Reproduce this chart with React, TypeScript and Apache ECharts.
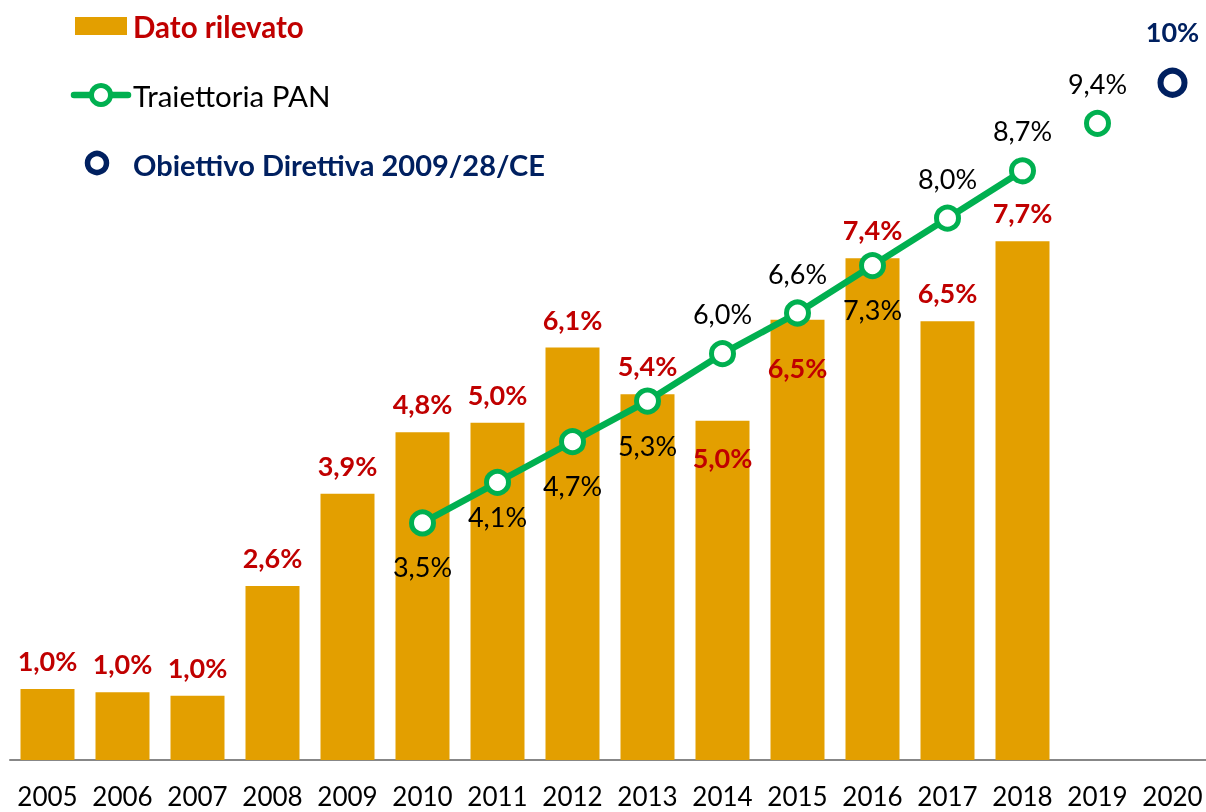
import React, { useEffect, useRef } from "react";
import * as echarts from "echarts";

const years = ["2005","2006","2007","2008","2009","2010","2011","2012","2013","2014","2015","2016","2017","2018","2019","2020"];
const rilevato = [1.05, 1.0, 0.95, 2.57, 3.93, 4.84, 4.98, 6.09, 5.4, 5.01, 6.5, 7.41, 6.48, 7.66, null, null];
const rilevatoLabels = ["1,0%","1,0%","1,0%","2,6%","3,9%","4,8%","5,0%","6,1%","5,4%","5,0%","6,5%","7,4%","6,5%","7,7%","",""];
const traiettoria = [null, null, null, null, null, 3.5, 4.1, 4.7, 5.3, 6.0, 6.6, 7.3, 8.0, 8.7, null, null];
const traiettoriaLabelPos = ["", "", "", "", "", "bottom", "bottom", "bottom", "bottom", "top", "top", "bottom", "top", "top", "", ""];
const traiettoria2019 = [null, null, null, null, null, null, null, null, null, null, null, null, null, null, 9.4, null];
const obiettivo = [null, null, null, null, null, null, null, null, null, null, null, null, null, null, null, 10];
const obiettivoLabel = "10%";

const ORANGE = "#E39F00";
const GREEN = "#00B050";
const RED = "#C00000";
const NAVY = "#002060";
const FONT = "Lato";

const fmt = (v: number) => v.toFixed(1).replace(".", ",") + "%";

export default function App() {
  const ref = useRef<HTMLDivElement>(null);
  useEffect(() => {
    if (!ref.current) return;
    const chart = echarts.init(ref.current, null, { renderer: "svg" });

    const barData = rilevato.map((v, i) => {
      if (v === null) return null;
      const inside = i === 9 || i === 10;
      return {
        value: v,
        label: inside
          ? { position: "insideTop", distance: i === 9 ? 23 : 34 }
          : { position: "top", distance: 15 },
      };
    });

    const lineData = traiettoria.map((v, i) => {
      if (v === null) return null;
      const pos = traiettoriaLabelPos[i];
      return {
        value: v,
        label: { position: pos, distance: pos === "bottom" ? (i === 6 ? 7 : 17) : 13 },
      };
    });

    chart.setOption({
      animation: false,
      grid: { left: 10, right: 2, top: 15, bottom: 52, containLabel: false },
      xAxis: {
        type: "category",
        data: years,
        axisLine: { show: true, lineStyle: { color: "#878787", width: 2 } },
        axisTick: { show: false },
        axisLabel: { color: "#000", fontFamily: FONT, fontSize: 26, margin: 23, interval: 0, hideOverlap: false },
      },
      yAxis: {
        type: "value",
        min: 0,
        max: 11,
        show: false,
        splitLine: { show: false },
      },
      graphic: [
        { type: "rect", shape: { x: 75, y: 17, width: 52, height: 18 }, style: { fill: ORANGE } },
        { type: "text", x: 133, y: 26, style: { text: "Dato rilevato", fill: RED, font: `bold 29.5px ${FONT}`, textVerticalAlign: "middle" } },
        { type: "line", shape: { x1: 74, y1: 95, x2: 128, y2: 95 }, style: { stroke: GREEN, lineWidth: 6.5, lineCap: "round" } },
        { type: "circle", shape: { cx: 101, cy: 95, r: 9.5 }, style: { fill: "#fff", stroke: GREEN, lineWidth: 5 } },
        { type: "text", x: 133, y: 95, style: { text: "Traiettoria PAN", fill: "#000", font: `29.5px ${FONT}`, textVerticalAlign: "middle" } },
        { type: "circle", shape: { cx: 97, cy: 163, r: 9.5 }, style: { fill: "#fff", stroke: NAVY, lineWidth: 5.5 } },
        { type: "text", x: 133, y: 164, style: { text: "Obiettivo Direttiva 2009/28/CE", fill: NAVY, font: `bold 29px ${FONT}`, textVerticalAlign: "middle" } },
      ],
      series: [
        {
          name: "Dato rilevato",
          type: "bar",
          data: barData,
          barWidth: 54,
          itemStyle: { color: ORANGE },
          label: {
            show: true,
            color: RED,
            fontFamily: FONT,
            fontWeight: "bold",
            fontSize: 27,
            formatter: (p: any) => rilevatoLabels[p.dataIndex],
          },
          z: 2,
        },
        {
          name: "Traiettoria PAN",
          type: "line",
          data: lineData,
          symbol: "circle",
          symbolSize: 22,
          showAllSymbol: true,
          lineStyle: { color: GREEN, width: 6.5 },
          itemStyle: { color: "#fff", borderColor: GREEN, borderWidth: 5 },
          label: {
            show: true,
            color: "#000",
            fontFamily: FONT,
            fontSize: 27,
            formatter: (p: any) => fmt(p.value),
          },
          z: 3,
        },
        {
          name: "Traiettoria PAN 2019",
          type: "scatter",
          data: traiettoria2019,
          symbol: "circle",
          symbolSize: 22,
          itemStyle: { color: "#fff", borderColor: GREEN, borderWidth: 5, opacity: 1 },
          label: {
            show: true,
            position: "top",
            distance: 13,
            color: "#000",
            fontFamily: FONT,
            fontSize: 27,
            formatter: (p: any) => fmt(p.value),
          },
          z: 3,
        },
        {
          name: "Obiettivo Direttiva 2009/28/CE",
          type: "scatter",
          data: obiettivo,
          symbol: "circle",
          symbolSize: 24,
          itemStyle: { color: "#fff", borderColor: NAVY, borderWidth: 6, opacity: 1 },
          label: {
            show: true,
            position: "top",
            distance: 23,
            color: NAVY,
            fontFamily: FONT,
            fontWeight: "bold",
            fontSize: 27,
            formatter: () => obiettivoLabel,
          },
          z: 3,
        },
      ],
    });
    return () => chart.dispose();
  }, []);
  return <div ref={ref} style={{ position: "fixed", left: 0, top: 0, width: 1212, height: 812 }} />;
}
